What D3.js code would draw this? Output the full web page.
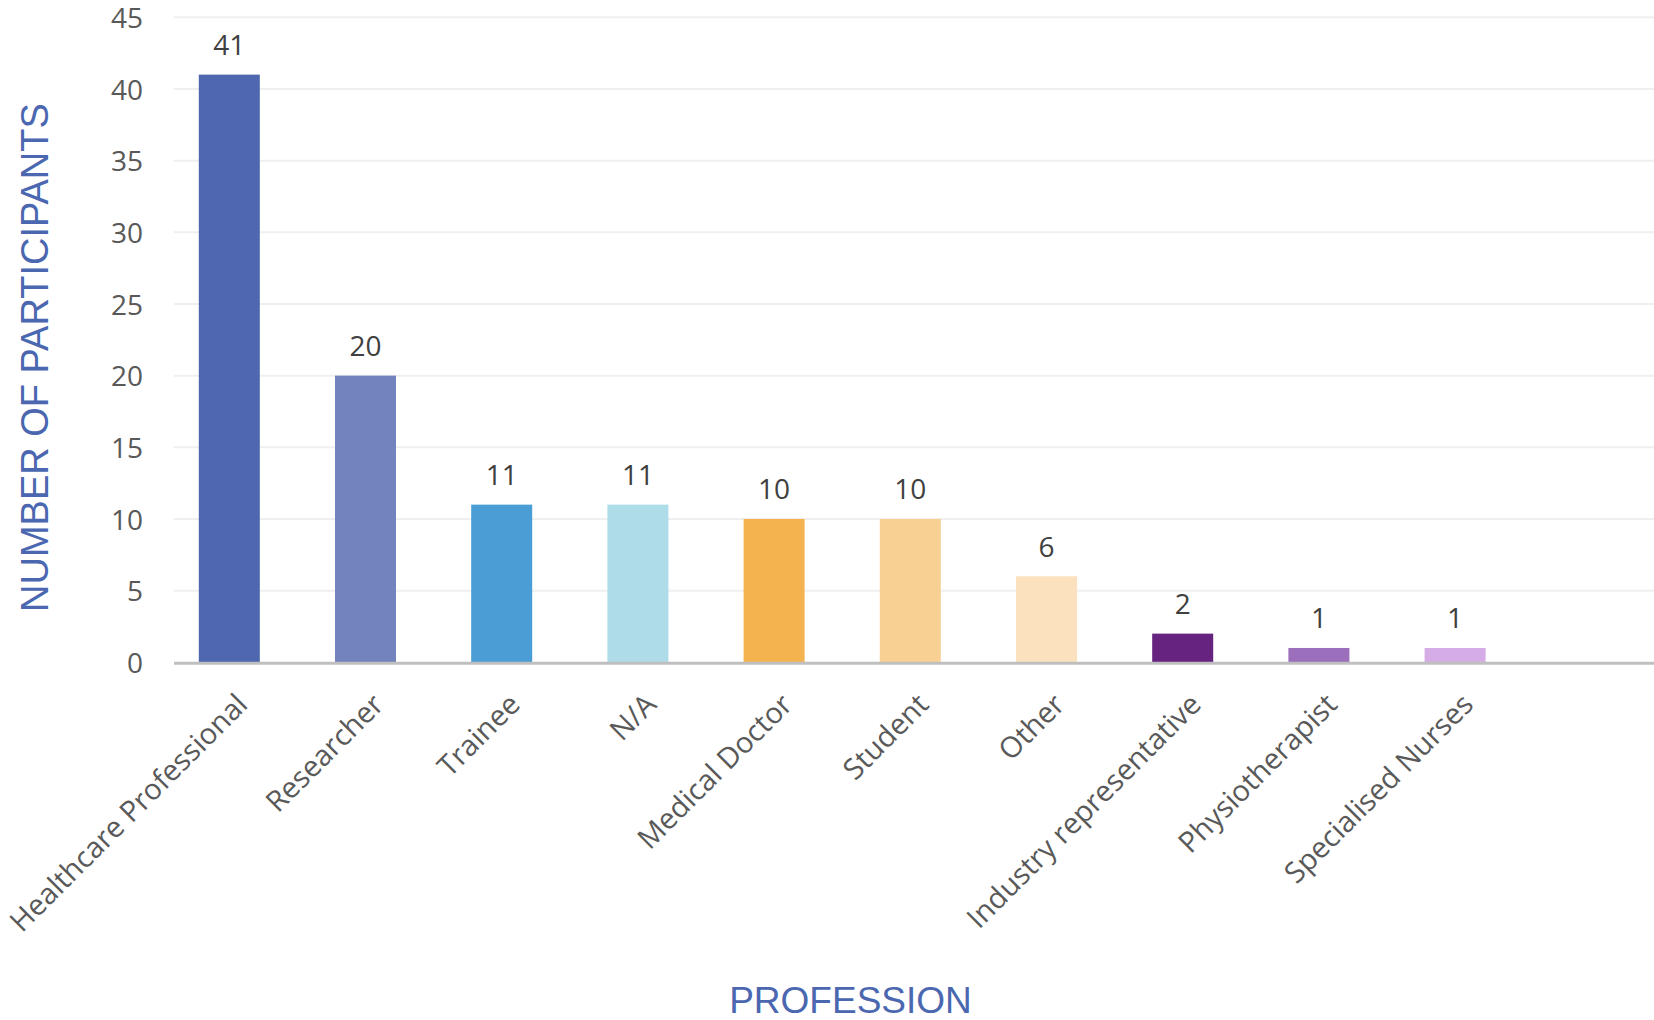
<!DOCTYPE html>
<html>
<head>
<meta charset="utf-8">
<script src="https://cdn.jsdelivr.net/npm/d3@7"></script>
<style>
  html, body { margin: 0; padding: 0; background: #ffffff; }
  svg { display: block; }
</style>
</head>
<body>
<svg id="chart" width="1654" height="1020"></svg>
<script>
// ---- data ----
const categories = ["Healthcare Professional", "Researcher", "Trainee", "N/A", "Medical Doctor",
                    "Student", "Other", "Industry representative", "Physiotherapist", "Specialised Nurses"];
const participants = [41, 20, 11, 11, 10, 10, 6, 2, 1, 1];
const barColors = ["#4e67ae", "#7383be", "#4b9dd5", "#aedce8", "#f5b350",
                   "#f8d093", "#fbe1bd", "#66237f", "#9b6fbb", "#d5ace5"];
const yTicks = [0, 5, 10, 15, 20, 25, 30, 35, 40, 45];
const yTitle = "NUMBER OF PARTICIPANTS";
const xTitle = "PROFESSION";

// ---- layout ----
const plot = { left: 174, right: 1654, top: 17.3, bottom: 662.3 };
const svg = d3.select("#chart");

const x = d3.scaleBand()
  .domain(categories)
  .range([161.2, 1523.2])
  .paddingInner(0.552)
  .paddingOuter(0.276);

const y = d3.scaleLinear()
  .domain([0, 45])
  .range([plot.bottom, plot.top]);

// gridlines
svg.append("g")
  .selectAll("line")
  .data(yTicks.filter(d => d > 0))
  .join("line")
  .attr("x1", plot.left).attr("x2", plot.right)
  .attr("y1", d => y(d)).attr("y2", d => y(d))
  .attr("stroke", "#efefef")
  .attr("stroke-width", 2);

// y tick labels
const yAxis = d3.axisLeft(y).tickValues(yTicks).tickSize(0).tickPadding(0);
const yg = svg.append("g")
  .attr("transform", "translate(143,0)")
  .call(yAxis);
yg.select(".domain").remove();
yg.selectAll("text")
  .attr("font-family", "'Open Sans', sans-serif")
  .attr("font-size", 28)
  .attr("fill", "#595959")
  .attr("dy", "0.36em");

// bars
svg.append("g")
  .selectAll("rect")
  .data(categories)
  .join("rect")
  .attr("x", d => x(d))
  .attr("width", x.bandwidth())
  .attr("y", (d, i) => y(participants[i]))
  .attr("height", (d, i) => y(0) - y(participants[i]))
  .attr("fill", (d, i) => barColors[i]);

// baseline axis
svg.append("line")
  .attr("x1", plot.left).attr("x2", plot.right)
  .attr("y1", y(0) + 1).attr("y2", y(0) + 1)
  .attr("stroke", "#bfbfbf")
  .attr("stroke-width", 3);

// data labels
svg.append("g")
  .selectAll("text")
  .data(categories)
  .join("text")
  .attr("x", d => x(d) + x.bandwidth() / 2)
  .attr("y", (d, i) => y(participants[i]) - 19.5)
  .attr("text-anchor", "middle")
  .attr("font-family", "'Open Sans', sans-serif")
  .attr("font-size", 28)
  .attr("fill", "#404040")
  .text((d, i) => participants[i]);

// category labels (rotated)
const xAxis = d3.axisBottom(x).tickSize(0).tickPadding(0);
const xg = svg.append("g")
  .attr("transform", `translate(0,${plot.bottom})`)
  .call(xAxis);
xg.select(".domain").remove();
xg.selectAll(".tick text")
  .attr("font-family", "'Open Sans', sans-serif")
  .attr("font-size", 29)
  .attr("fill", "#595959")
  .attr("text-anchor", "end")
  .attr("dy", null)
  .attr("y", 0)
  .attr("transform", "translate(20,44) rotate(-45)");

// axis titles
svg.append("text")
  .attr("transform", "translate(48,357.6) rotate(-90)")
  .attr("text-anchor", "middle")
  .attr("font-family", "'Liberation Sans', Arial, sans-serif")
  .attr("font-size", 38)
  .attr("fill", "#4a67b0")
  .text(yTitle);

svg.append("text")
  .attr("x", 850.5)
  .attr("y", 1012.6)
  .attr("text-anchor", "middle")
  .attr("font-family", "'Liberation Sans', Arial, sans-serif")
  .attr("font-size", 37)
  .attr("fill", "#4a67b0")
  .text(xTitle);
</script>
</body>
</html>
